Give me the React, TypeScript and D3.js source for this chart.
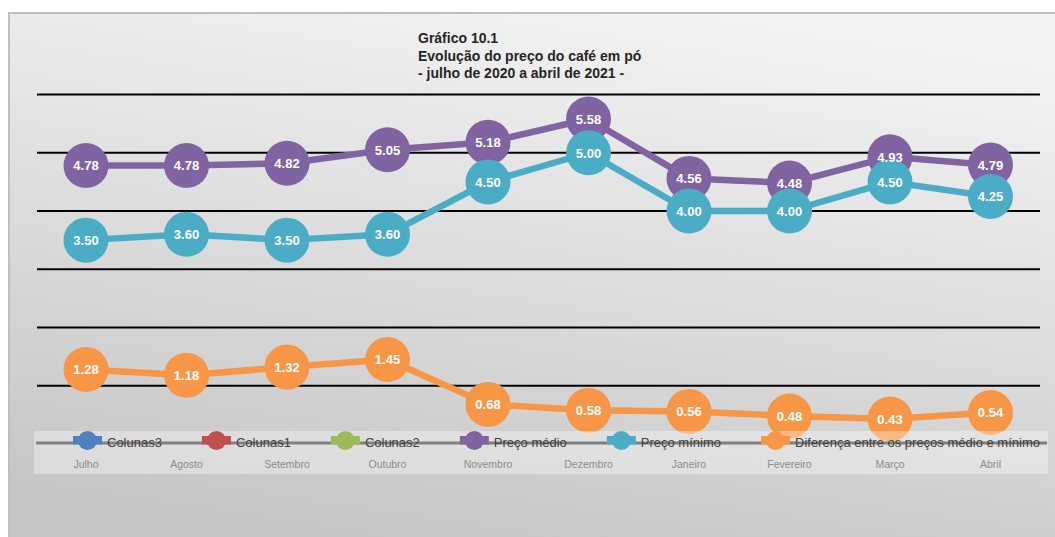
import React, { useEffect, useRef } from "react";
import * as d3 from "d3";

const categories = ["Julho", "Agosto", "Setembro", "Outubro", "Novembro", "Dezembro", "Janeiro", "Fevereiro", "Março", "Abril"];
const precoMedio = [4.78, 4.78, 4.82, 5.05, 5.18, 5.58, 4.56, 4.48, 4.93, 4.79];
const precoMinimo = [3.5, 3.6, 3.5, 3.6, 4.5, 5.0, 4.0, 4.0, 4.5, 4.25];
const diferenca = [1.28, 1.18, 1.32, 1.45, 0.68, 0.58, 0.56, 0.48, 0.43, 0.54];
const yTicks = [0, 1, 2, 3, 4, 5, 6];
const titleLines = ["Gráfico 10.1", "Evolução do preço do café em pó", "- julho de 2020 a abril de 2021 -"];
const legendLabels = ["Colunas3", "Colunas1", "Colunas2", "Preço médio", "Preço mínimo", "Diferença entre os preços médio e mínimo"];
const legendColors = ["#4F81BD", "#C0504D", "#9BBB59", "#8064A2", "#4BACC6", "#F79646"];

const seriesList = [
  { name: "Preço médio", values: precoMedio, color: "#8064A2" },
  { name: "Preço mínimo", values: precoMinimo, color: "#4BACC6" },
  { name: "Diferença", values: diferenca, color: "#F79646" },
];

const W = 1055;
const H = 537;
const FONT = "'Liberation Sans', Arial, Helvetica, sans-serif";

export default function App() {
  const ref = useRef<SVGSVGElement | null>(null);

  useEffect(() => {
    const svg = d3.select(ref.current);
    svg.selectAll("*").remove();

    const defs = svg.append("defs");
    const grad = defs
      .append("linearGradient")
      .attr("id", "bg")
      .attr("x1", "0.65")
      .attr("y1", "0")
      .attr("x2", "0.35")
      .attr("y2", "1");
    grad.append("stop").attr("offset", "0").attr("stop-color", "#f3f3f3");
    grad.append("stop").attr("offset", "1").attr("stop-color", "#c5c5c5");

    svg
      .append("rect")
      .attr("x", 9)
      .attr("y", 13)
      .attr("width", W)
      .attr("height", H)
      .attr("fill", "url(#bg)")
      .attr("stroke", "#bfbfbf")
      .attr("stroke-width", 2);

    // title
    const title = svg
      .append("text")
      .attr("x", 418)
      .attr("y", 43)
      .attr("font-family", FONT)
      .attr("font-size", 14)
      .attr("font-weight", "bold")
      .attr("fill", "#262626");
    titleLines.forEach((t, i) => {
      title.append("tspan").attr("x", 418).attr("dy", i === 0 ? 0 : 17.5).text(t);
    });

    const x = d3.scaleBand<string>().domain(categories).range([35.75, 1040.75]);
    const cx = (c: string) => (x(c) as number) + x.bandwidth() / 2;
    const y = d3.scaleLinear().domain([0, 6]).range([444, 94.5]);

    // gridlines
    svg
      .append("g")
      .selectAll("line")
      .data(yTicks.filter((t) => t > 0))
      .join("line")
      .attr("x1", 37)
      .attr("x2", 1040)
      .attr("y1", (d) => y(d))
      .attr("y2", (d) => y(d))
      .attr("stroke", "#000")
      .attr("stroke-width", 2);

    const line = d3
      .line<number>()
      .x((_, i) => cx(categories[i]))
      .y((d) => y(d));

    const marks = svg.append("g");
    seriesList.forEach((s) => {
      marks
        .append("path")
        .datum(s.values)
        .attr("d", line)
        .attr("fill", "none")
        .attr("stroke", s.color)
        .attr("stroke-width", 6.5)
        .attr("stroke-linejoin", "round");
      marks
        .append("g")
        .selectAll("circle")
        .data(s.values)
        .join("circle")
        .attr("cx", (_, i) => cx(categories[i]))
        .attr("cy", (d) => y(d))
        .attr("r", 22.5)
        .attr("fill", s.color);
    });

    const labels = svg.append("g");
    seriesList.forEach((s) => {
      labels
        .append("g")
        .selectAll("text")
        .data(s.values)
        .join("text")
        .attr("x", (_, i) => cx(categories[i]))
        .attr("y", (d) => y(d) + 4.8)
        .attr("text-anchor", "middle")
        .attr("font-family", FONT)
        .attr("font-size", 13)
        .attr("font-weight", "bold")
        .attr("fill", "#ffffff")
        .text((d) => d3.format(".2f")(d));
    });

    // axis / legend band
    svg
      .append("rect")
      .attr("x", 34)
      .attr("y", 431)
      .attr("width", 1014)
      .attr("height", 43)
      .attr("fill", "#ffffff")
      .attr("fill-opacity", 0.35);

    svg
      .append("line")
      .attr("x1", 36)
      .attr("x2", 1047)
      .attr("y1", y(0) - 1)
      .attr("y2", y(0) - 1)
      .attr("stroke", "#808080")
      .attr("stroke-width", 3);

    svg
      .append("g")
      .selectAll("text")
      .data(categories)
      .join("text")
      .attr("x", (d) => cx(d))
      .attr("y", 468)
      .attr("text-anchor", "middle")
      .attr("font-family", FONT)
      .attr("font-size", 10.5)
      .attr("fill", "#8c8c8c")
      .text((d) => d);

    // legend
    const legend = svg.append("g");
    let lx = 73;
    legendLabels.forEach((lab, i) => {
      const g = legend.append("g");
      g.append("rect")
        .attr("x", lx)
        .attr("y", 436)
        .attr("width", 29)
        .attr("height", 8.5)
        .attr("fill", legendColors[i]);
      g.append("circle")
        .attr("cx", lx + 14.5)
        .attr("cy", 440.5)
        .attr("r", 9.5)
        .attr("fill", legendColors[i]);
      const t = g
        .append("text")
        .attr("x", lx + 34)
        .attr("y", 447)
        .attr("font-family", FONT)
        .attr("font-size", 13)
        .attr("fill", "#404040")
        .text(lab);
      const w = (t.node() as SVGTextElement).getComputedTextLength();
      lx = lx + 34 + w + 40;
    });
  }, []);

  return (
    <svg
      ref={ref}
      width={W}
      height={H}
      style={{ position: "absolute", left: 0, top: 0, display: "block" }}
    />
  );
}
